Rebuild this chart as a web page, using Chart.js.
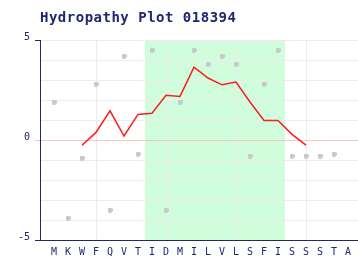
<!DOCTYPE html>
<html>
<head>
<meta charset="utf-8">
<script src="https://cdn.jsdelivr.net/npm/chart.js@4/dist/chart.umd.min.js"></script>
<style>
  html, body { margin: 0; padding: 0; background: #ffffff; }
  #c { display: block; }
</style>
</head>
<body>
<canvas id="c" width="358" height="260"></canvas>
<script>
// ---- data ----
const titleText = 'Hydropathy Plot 018394';
const residues = ['M','K','W','F','Q','V','T','I','D','M','I','L','V','L','S','F','I','S','S','S','T','A'];
const residueScores = [1.9,-3.9,-0.9,2.8,-3.5,4.2,-0.7,4.5,-3.5,1.9,4.5,3.8,4.2,3.8,-0.8,2.8,4.5,-0.8,-0.8,-0.8,-0.7];
const averageStart = 2;
const averageScores = [-0.26,0.38,1.46,0.2,1.28,1.34,2.24,2.18,3.64,3.1,2.76,2.9,1.9,0.98,0.98,0.28,-0.26];
const bandFirst = 7;
const bandLast = 16;
const yLabelValues = [5, 0, -5];
const xGridValues = [3, 8, 13, 18];

// ---- styling ----
const NAVY = 'rgb(30,40,110)';
const GRID = '#ececec';
const PINK = 'rgb(255,195,195)';
const BAND = 'rgb(208,253,220)';
const MONO = '"DejaVu Sans Mono", "Liberation Mono", monospace';

const scorePoints = residueScores.map((v, i) => ({ x: i, y: v }));
const averagePoints = averageScores.map((v, i) => ({ x: averageStart + i, y: v }));

// plus-shaped marker
const marker = document.createElement('canvas');
marker.width = 5; marker.height = 5;
(function () {
  const m = marker.getContext('2d');
  m.fillStyle = 'rgb(200,200,200)';
  m.fillRect(1, 0, 3, 5);
  m.fillRect(0, 1, 5, 3);
})();

const bandPlugin = {
  id: 'band',
  beforeDraw(chart) {
    const { ctx, chartArea, scales } = chart;
    const x0 = scales.x.getPixelForValue(bandFirst - 0.5);
    const x1 = scales.x.getPixelForValue(bandLast + 0.5);
    ctx.save();
    ctx.fillStyle = BAND;
    ctx.fillRect(x0, chartArea.top, x1 - x0, chartArea.bottom - chartArea.top);
    ctx.restore();
  }
};

const titlePlugin = {
  id: 'monoTitle',
  afterDraw(chart) {
    const ctx = chart.ctx;
    ctx.save();
    ctx.font = 'bold 14px ' + MONO;
    if ('letterSpacing' in ctx) ctx.letterSpacing = '0.5px';
    ctx.fillStyle = NAVY;
    ctx.textBaseline = 'alphabetic';
    ctx.textAlign = 'left';
    ctx.fillText(titleText, 40, 22);
    ctx.restore();
  }
};

new Chart(document.getElementById('c'), {
  type: 'line',
  data: {
    datasets: [
      {
        label: 'average',
        data: averagePoints,
        borderColor: 'rgb(250,30,30)',
        borderWidth: 1.5,
        pointRadius: 0,
        tension: 0,
        fill: false
      },
      {
        label: 'residue',
        data: scorePoints,
        showLine: false,
        pointStyle: marker,
        pointRadius: 3,
        pointHoverRadius: 3
      }
    ]
  },
  options: {
    responsive: false,
    animation: false,
    devicePixelRatio: 1,
    layout: { autoPadding: false, padding: { top: 40, left: 0, right: 0, bottom: 0 } },
    plugins: {
      legend: { display: false },
      tooltip: { enabled: false },
      title: { display: false }
    },
    scales: {
      x: {
        type: 'linear',
        min: -1,
        max: -1 + 318 / 14,
        afterBuildTicks(scale) {
          scale.ticks = residues.map((_, i) => ({ value: i }));
        },
        afterFit(scale) {
          scale.height = 20;
          scale.paddingLeft = 0;
          scale.paddingRight = 0;
        },
        ticks: {
          autoSkip: false,
          maxRotation: 0,
          padding: 6,
          color: NAVY,
          font: { family: MONO, size: 10 },
          callback: (v) => residues[v] !== undefined ? residues[v] : ''
        },
        grid: {
          color: (c) => (c.tick && xGridValues.includes(c.tick.value)) ? GRID : 'rgba(0,0,0,0)',
          lineWidth: 1,
          drawTicks: false
        },
        border: { color: NAVY, width: 1 }
      },
      y: {
        type: 'linear',
        min: -5,
        max: 5,
        afterBuildTicks(scale) {
          const t = [];
          for (let v = -5; v <= 5; v++) t.push({ value: v });
          scale.ticks = t;
        },
        afterFit(scale) {
          scale.width = 40;
          scale.paddingTop = 0;
          scale.paddingBottom = 0;
        },
        ticks: {
          autoSkip: false,
          padding: 5,
          labelOffset: -3,
          color: NAVY,
          font: { family: MONO, size: 10 },
          callback: (v) => yLabelValues.includes(v) ? String(v) : ''
        },
        grid: {
          color: (c) => (c.tick && c.tick.value === 0) ? PINK : GRID,
          tickColor: (c) => {
            if (!c.tick) return 'rgba(0,0,0,0)';
            if (c.tick.value === 0) return PINK;
            if (c.tick.value === 5 || c.tick.value === -5) return NAVY;
            return 'rgba(0,0,0,0)';
          },
          tickLength: 5,
          lineWidth: 1
        },
        border: { color: NAVY, width: 1 }
      }
    }
  },
  plugins: [bandPlugin, titlePlugin]
});
</script>
</body>
</html>
